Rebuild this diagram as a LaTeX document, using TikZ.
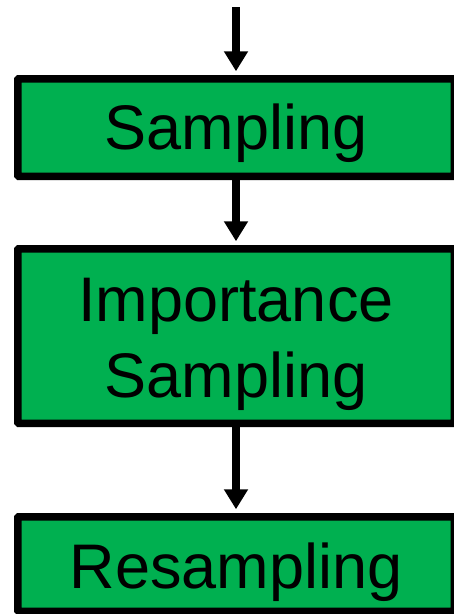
\documentclass[tikz,border=0pt]{standalone}
\usepackage{fontspec}
\setmainfont{Liberation Sans}
\usetikzlibrary{arrows.meta}
\definecolor{boxgreen}{RGB}{0,176,80}
\begin{document}
\begin{tikzpicture}[x=1pt,y=1pt,
  box/.style={draw=black, fill=boxgreen, line width=7.5pt, minimum width=436.5pt, inner sep=0pt, rounded corners=1pt},
  lbl/.style={font=\fontsize{63}{76}\selectfont, inner sep=0pt, align=center},
  flow/.style={line width=8.5pt, -{Triangle[length=20pt,width=23pt]}, shorten >=3.75pt}
]
\useasboundingbox (0,0) rectangle (454,-614);
\coordinate (start) at (236,-7);
\node[box, minimum height=97.5pt] (s1) at (236,-127.5) {};
\node[box, minimum height=174.5pt] (s2) at (236,-336) {};
\node[box, minimum height=94.5pt] (s3) at (236,-564) {};
\node[lbl, anchor=base] (t1) at (236,-149) {Sampling};
\node[lbl, anchor=center] (t2) at (236,-344) {Importance\\Sampling};
\node[lbl, anchor=base] (t3) at (236,-588) {Resampling};
\draw[flow] (start) -- (s1.north);
\draw[flow] (s1.south) -- (s2.north);
\draw[flow] (s2.south) -- (s3.north);
\end{tikzpicture}
\end{document}
